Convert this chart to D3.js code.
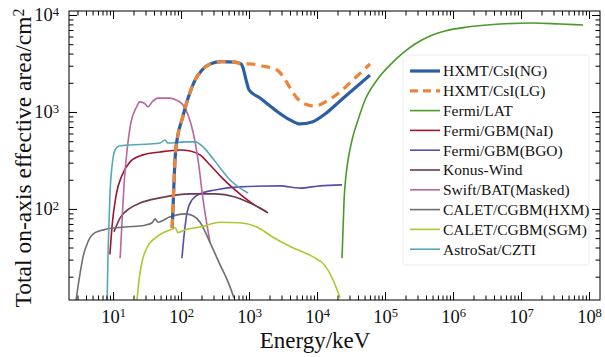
<!DOCTYPE html>
<html><head><meta charset="utf-8">
<script src="https://cdn.jsdelivr.net/npm/d3@7"></script>
<style>body{margin:0;background:#fff}</style>
</head><body>
<svg id="c" width="605" height="357"></svg>
<script>
// ---------- data (energy keV, effective area cm^2) ----------
const hxmtRise = [[74,64],[76,98],[79,199],[82,343],[90,580],[103,828],[127,1390],[161,2140],[204,2710],[267,3130],[400,3310],[622,3270],[762,3130]];
const hxmtNG = [[817,2840],[904,2140],[1000,1690],[1450,1390],[2410,1050],[4010,828],[5620,752],[8440,788],[13100,953],[21800,1300],[36200,1770],[60100,2400]];
const hxmtLG = [[1030,3130],[1550,2980],[2580,2710],[3270,2240],[4010,1770],[5080,1390],[6660,1210],[9350,1150],[14000,1300],[21800,1610],[36200,2240],[60100,3130]];
const fermiLAT = [[23300,31],[24100,61],[25000,124],[26700,224],[28600,320],[32700,514],[40100,828],[50800,1330],[76200,2140],[119000,3060],[184000,4060],[276000,5020],[459000,6080],[763000,6840],[1.61e6,7520],[4.91e6,8070],[1.5e7,8270],[3.75e7,8070],[8.17e7,7890]];
const gbmNaI = [[9.0,34],[9.7,68],[11.1,139],[13.6,224],[17.8,306],[27.6,361],[49,387],[97,406],[136,396],[190,361],[267,284],[401,209],[622,157],[1035,118],[1900,91]];
const gbmBGO = [[103,31],[111,54],[123,93],[145,124],[190,143],[316,157],[738,169],[2860,173],[5620,164],[11100,173],[23300,177]];
const konus = [[10.3,58],[12.7,81],[17.8,102],[24.9,115],[49,130],[136,143],[316,143],[622,133],[1035,115],[1840,93]];
const swiftBAT = [[12.7,31],[13.6,77],[14.5,177],[16.1,406],[18.4,788],[21.8,1100],[24.9,1270],[29.6,1210],[32.7,1130],[37.5,1270],[45.9,1390],[68.8,1390],[90,1300],[107,1180],[127,930],[150,622],[178,320],[211,124],[241,68],[267,45]];
const caletHXM = [[2.86,11.5],[3.16,18.5],[3.62,32],[4.29,46],[5.43,57],[8.2,62],[15,65],[29.6,68],[37.5,72],[41.5,79],[45.9,73],[69,83],[115,89],[150,85],[190,73],[267,45],[375,26.5],[491,17.7],[601,12.1]];
const caletSGM = [[22.5,11.5],[24.1,18.5],[26.7,28.5],[31.6,40],[41.5,50],[58,58],[74,62],[82,64],[90,57],[115,61],[190,65],[375,73],[738,72],[1310,65],[2250,51],[4010,41],[8740,32],[13100,26],[17200,18.5],[21800,12.1]];
const czti = [[8.2,11.5],[8.4,30],[8.7,68],[9.0,139],[9.7,284],[10.7,406],[12.3,446],[17.8,457],[35,468],[49,479],[58,514],[64,479],[115,491],[161,491],[211,436],[267,361],[375,265],[525,199],[738,164],[966,146]];

const legendLabels = ["HXMT/CsI(NG)","HXMT/CsI(LG)","Fermi/LAT","Fermi/GBM(NaI)","Fermi/GBM(BGO)","Konus-Wind","Swift/BAT(Masked)","CALET/CGBM(HXM)","CALET/CGBM(SGM)","AstroSat/CZTI"];
const xMajor = [1e1,1e2,1e3,1e4,1e5,1e6,1e7,1e8];
const yMajor = [1e2,1e3,1e4];

// ---------- drawing ----------
const svg = d3.select("#c");
const L=69, R=600, T=11, B=300;
const x = d3.scaleLog().domain([2.25,1.45e8]).range([L,R]);
const y = d3.scaleLog().domain([11.5,11000]).range([B,T]);
const serif = "'Liberation Serif','DejaVu Serif',serif";

svg.append("defs").append("clipPath").attr("id","pc").append("rect")
  .attr("x",L).attr("y",T).attr("width",R-L).attr("height",B-T);

const series = [
  {name:legendLabels[3], data:gbmNaI, color:"#a3122f", w:1.6},
  {name:legendLabels[4], data:gbmBGO, color:"#5b4ea6", w:1.6},
  {name:legendLabels[5], data:konus, color:"#6e3a4e", w:1.6},
  {name:legendLabels[6], data:swiftBAT, color:"#b8679e", w:1.6},
  {name:legendLabels[7], data:caletHXM, color:"#6f6f72", w:1.6},
  {name:legendLabels[8], data:caletSGM, color:"#b2c530", w:1.6},
  {name:legendLabels[9], data:czti, color:"#55a9b6", w:1.6},
  {name:legendLabels[2], data:fermiLAT, color:"#4c9a2a", w:1.6},
  {name:legendLabels[0], data:hxmtRise.concat(hxmtNG), color:"#2c5ea3", w:3.2},
  {name:legendLabels[1], data:hxmtRise.concat(hxmtLG), color:"#ec8538", w:3.2, dash:"9,6"}
];
const line = d3.line().x(d=>x(d[0])).y(d=>y(d[1])).curve(d3.curveMonotoneX);
const g = svg.append("g").attr("clip-path","url(#pc)");
series.forEach(s=>{
  g.append("path").attr("d",line(s.data)).attr("fill","none")
   .attr("stroke",s.color).attr("stroke-width",s.w)
   .attr("stroke-linejoin","round")
   .attr("stroke-dasharray",s.dash||null);
});

// minor ticks
function minors(lo,hi){const m=[];for(let e=Math.floor(Math.log10(lo));e<=Math.ceil(Math.log10(hi));e++){for(let k=2;k<10;k++){const v=k*Math.pow(10,e);if(v>=lo&&v<=hi)m.push(v);}}return m;}
const xMin = minors(2.25,1.45e8), yMin = minors(11.5,11000);

function styleAxis(sel){sel.select(".domain").remove();sel.selectAll("line").attr("stroke","#000").attr("stroke-width",1);}
function sup(sel){sel.selectAll(".tick text").each(function(d){
  const t=d3.select(this); const e=Math.round(Math.log10(d));
  t.text("10"); t.append("tspan").attr("dy","-0.45em").attr("font-size","0.68em").text(e);
}).attr("font-family",serif).attr("font-size",18.5).attr("fill","#111");}

svg.append("g").attr("transform",`translate(0,${B})`)
  .call(d3.axisBottom(x).tickValues(xMajor).tickSize(-8).tickPadding(10)).call(styleAxis).call(sup);
svg.append("g").attr("transform",`translate(0,${B})`)
  .call(d3.axisBottom(x).tickValues(xMin).tickSize(-4.5).tickFormat("")).call(styleAxis);
svg.append("g").attr("transform",`translate(0,${T})`)
  .call(d3.axisTop(x).tickValues(xMajor).tickSize(-8).tickFormat("")).call(styleAxis);
svg.append("g").attr("transform",`translate(0,${T})`)
  .call(d3.axisTop(x).tickValues(xMin).tickSize(-4.5).tickFormat("")).call(styleAxis);
svg.append("g").attr("transform",`translate(${L},0)`)
  .call(d3.axisLeft(y).tickValues(yMajor).tickSize(-8).tickPadding(10)).call(styleAxis).call(sup);
svg.append("g").attr("transform",`translate(${L},0)`)
  .call(d3.axisLeft(y).tickValues(yMin).tickSize(-4.5).tickFormat("")).call(styleAxis);
svg.append("g").attr("transform",`translate(${R},0)`)
  .call(d3.axisRight(y).tickValues(yMajor).tickSize(-8).tickFormat("")).call(styleAxis);
svg.append("g").attr("transform",`translate(${R},0)`)
  .call(d3.axisRight(y).tickValues(yMin).tickSize(-4.5).tickFormat("")).call(styleAxis);

svg.append("rect").attr("x",L).attr("y",T).attr("width",R-L).attr("height",B-T)
  .attr("fill","none").attr("stroke","#000").attr("stroke-width",1);

// axis labels
svg.append("text").attr("x",315).attr("y",348).attr("text-anchor","middle")
  .attr("font-family",serif).attr("font-size",23).attr("fill","#111").text("Energy/keV");
const yl = svg.append("text").attr("transform","translate(31,158) rotate(-90)").attr("text-anchor","middle")
  .attr("font-family",serif).attr("font-size",23.5).attr("fill","#111").text("Total on-axis effective area/cm");
yl.append("tspan").attr("dy","-0.45em").attr("font-size","0.68em").text("2");

// legend
const legOrder = [8,9,7,0,1,2,3,4,5,6];
svg.append("rect").attr("x",403).attr("y",55).attr("width",186).attr("height",210).attr("rx",3)
  .attr("fill","#fff").attr("fill-opacity",0.85).attr("stroke","#ededed");
legOrder.forEach((si,i)=>{
  const s=series[si]; const yy=71+i*19.8;
  svg.append("line").attr("x1",410).attr("x2",440).attr("y1",yy).attr("y2",yy)
    .attr("stroke",s.color).attr("stroke-width",s.w).attr("stroke-dasharray",s.dash?"8,5":null);
  svg.append("text").attr("x",443).attr("y",yy).attr("dy","0.35em")
    .attr("font-family",serif).attr("font-size",15.5).attr("fill","#111").text(s.name);
});
</script>
</body></html>
